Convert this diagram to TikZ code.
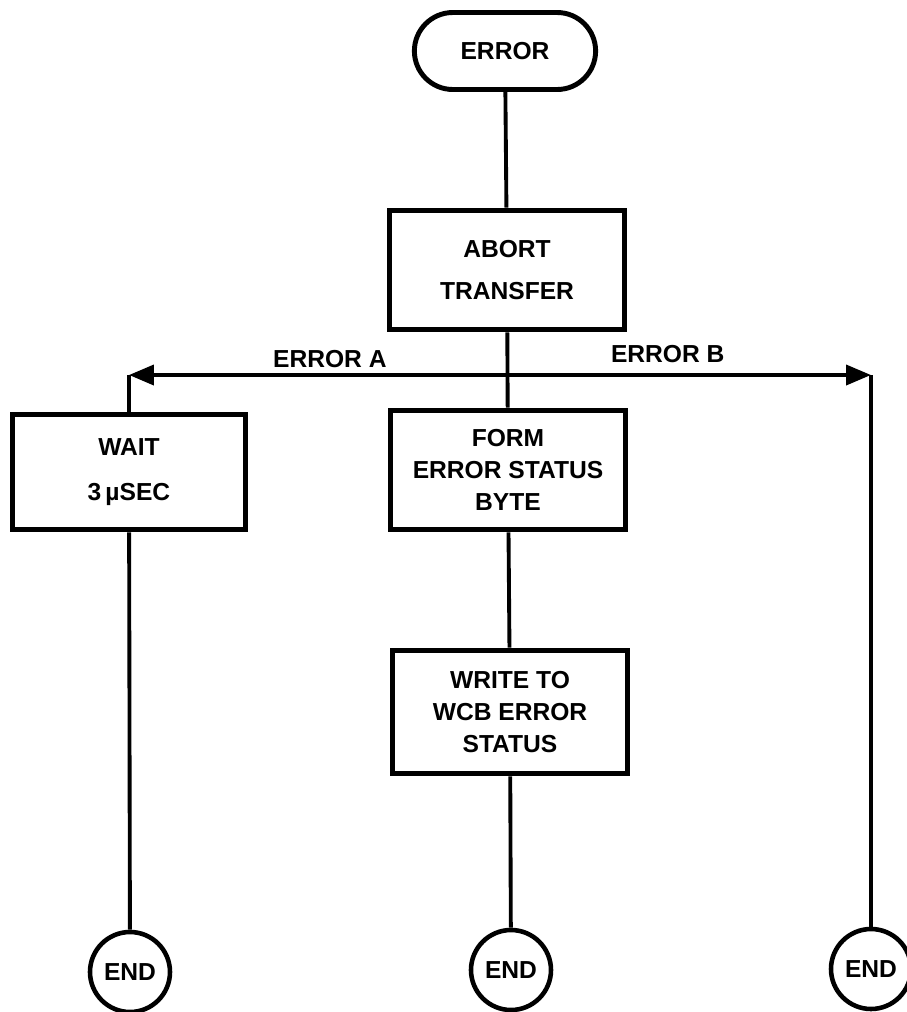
\documentclass[tikz,border=0pt]{standalone}
\usepackage{fontspec}
\setmainfont{Liberation Sans}
\usepackage{tikz}
\usetikzlibrary{arrows.meta, positioning, shapes.misc}
\tikzstyle{terminal} = [rounded rectangle, draw, line width=2.8pt,
  minimum width=3.86cm, minimum height=1.54cm, font=\fontsize{14}{18}\selectfont\bfseries]
\tikzstyle{block} = [rectangle, draw, line width=3pt, minimum width=4.71cm,
  minimum height=2.39cm, align=center, font=\fontsize{14}{18}\selectfont\bfseries]
\tikzstyle{finish} = [circle, draw, line width=2.6pt, minimum size=1.6cm,
  inner sep=0pt, font=\fontsize{14}{18}\selectfont\bfseries]
\tikzstyle{link} = [line width=2.2pt]
\tikzstyle{arrow} = [line width=2.2pt, -{Triangle[length=0.5cm, width=0.4cm]}]

\begin{document}
\begin{tikzpicture}[x=0.02cm, y=-0.02cm]
    \useasboundingbox (0,0) rectangle (907,1012);
    \node[terminal] (start) at (505,51) {ERROR};
    \node[block] (abort) at (507,270) {ABORT\\[6pt]TRANSFER};
    \node[block] (form) at (508,470) {FORM\\ERROR STATUS\\BYTE};
    \node[block, minimum height=2.47cm] (write) at (510,712) {WRITE TO\\WCB ERROR\\STATUS};
    \node[block, minimum width=4.65cm, minimum height=2.31cm] (wait) at (129,472) {WAIT\\[8pt]3\,µSEC};
    \node[finish] (end1) at (130,972) {END};
    \node[finish] (end2) at (511,970) {END};
    \node[finish] (end3) at (871,969) {END};
    \coordinate (split) at (508,375);
    \coordinate (cornerA) at (129,375);
    \coordinate (cornerB) at (871,375);
    \draw[link] (start) -- (abort);
    \draw[link] (abort) -- (form);
    \draw[link] (form) -- (write);
    \draw[link] (write) -- (end2);
    \draw[arrow] (split) -- node[above, pos=0.47, inner sep=3pt, font=\fontsize{14}{18}\selectfont\bfseries] (labA) {ERROR A} (cornerA);
    \draw[arrow] (split) -- node[above, pos=0.44, inner sep=6pt, font=\fontsize{14}{18}\selectfont\bfseries] (labB) {ERROR B} (cornerB);
    \draw[link] (cornerA) -- (wait);
    \draw[link] (wait) -- (end1);
    \draw[link] (cornerB) -- (end3);
  \end{tikzpicture}
\end{document}
